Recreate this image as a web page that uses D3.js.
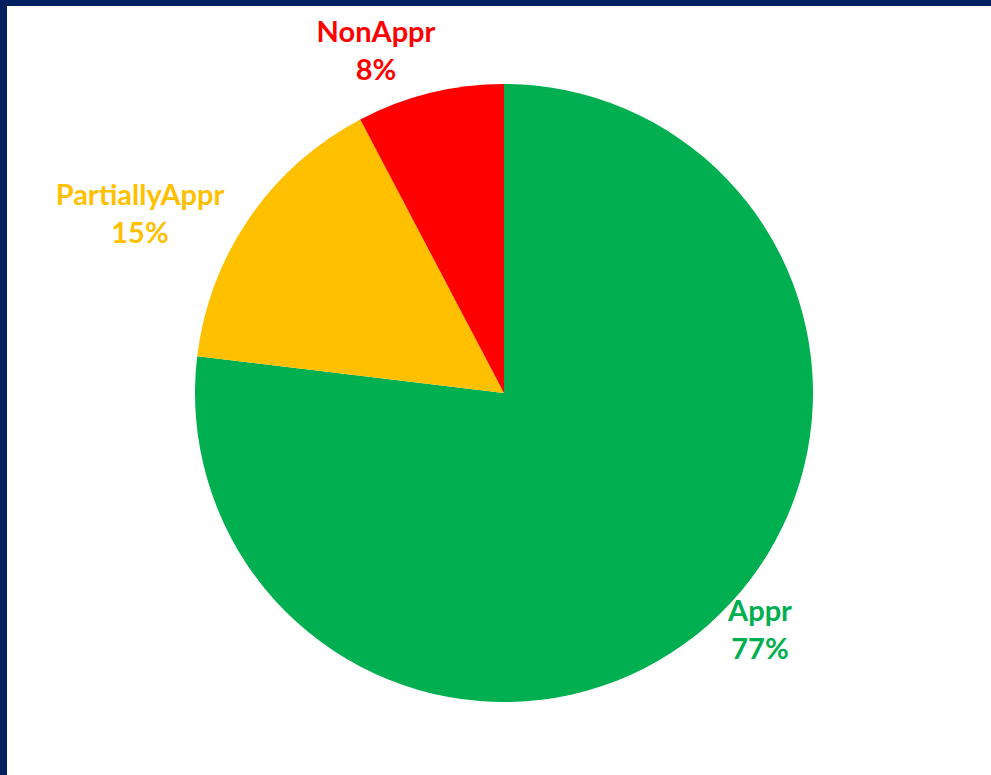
<!DOCTYPE html>
<html>
<head>
<meta charset="utf-8">
<script src="https://cdn.jsdelivr.net/npm/d3@7"></script>
<style>
  body { margin: 0; background: #fff; }
  svg { display: block; }
  .lbl { font-family: Lato, "Open Sans", sans-serif; font-weight: bold; font-size: 29px; }
</style>
</head>
<body>
<div id="chart"></div>
<script>
// chart data
var categories = ['Appr', 'PartiallyAppr', 'NonAppr'];
var values = [76.9, 15.4, 7.7];
var colors = ['#00B050', '#FFC000', '#FF0000'];

// label anchors (layout only), centre x / first baseline y
var labelPos = {
    'Appr': [760, 621],
    'PartiallyAppr': [140, 205],
    'NonAppr': [376, 42]
};

var W = 991, H = 775;
var cx = 504, cy = 393, R = 309;

var svg = d3.select('#chart').append('svg')
    .attr('width', W)
    .attr('height', H);

svg.append('rect').attr('width', W).attr('height', H).attr('fill', '#002060');
svg.append('rect').attr('x', 7).attr('y', 6).attr('width', W - 7).attr('height', H - 6).attr('fill', '#fff');

var rows = categories.map((c, i) => ({ name: c, value: values[i], color: colors[i] }));
var total = d3.sum(values);

var pie = d3.pie().sort(null).value(d => d.value);
var arc = d3.arc().innerRadius(0).outerRadius(R);

var g = svg.append('g').attr('transform', `translate(${cx},${cy})`);

g.selectAll('path')
    .data(pie(rows))
    .join('path')
    .attr('d', arc)
    .attr('fill', d => d.data.color);

var lbl = svg.selectAll('text.lbl')
    .data(rows)
    .join('text')
    .attr('class', 'lbl')
    .attr('text-anchor', 'middle')
    .attr('fill', d => d.color)
    .attr('transform', d => `translate(${labelPos[d.name][0]},${labelPos[d.name][1]})`);

lbl.append('tspan').attr('x', 0).attr('y', 0).text(d => d.name);
lbl.append('tspan').attr('x', 0).attr('y', 38).text(d => Math.round(d.value / total * 100) + '%');
</script>
</body>
</html>
